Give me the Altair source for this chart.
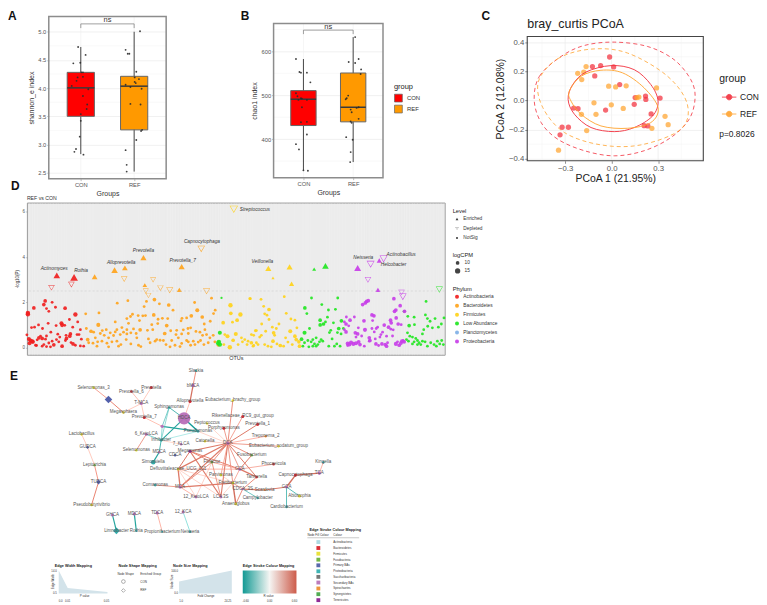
import altair as alt
import pandas as pd

FONT = "Liberation Sans"
GROUPS = ["CON", "REF"]
BOX_COL = ["#ff0000", "#ff9900"]

# ---------- A ----------
A_CON_J = [-.05,.09,-.14,-.01,.01,.04,.04,-.06,-.08,-.17,.14,.04,.12,.11,0,0,-.02,-.09,-.12,.05]
A_CON_V = [4.73,4.59,4.44,4.45,4.28,4.28,4.20,4.19,4.13,4.04,3.98,3.86,3.71,3.63,3.54,3.42,3.14,2.92,2.87,2.82]
A_REF_J = [.11,-.16,-.12,-.09,.04,.01,.09,.01,.03,-.16,-.07,.14,-.07,.12,.15,.13,.04,-.16,-.14,-.14]
A_REF_V = [5.01,4.68,4.61,4.61,4.29,4.19,4.16,4.11,4.09,4.06,4.02,3.99,3.72,3.71,3.26,3.24,3.08,2.90,2.64,2.52]
A_LO, A_Q1, A_MED, A_Q3, A_HI = [2.83,2.52],[3.50,3.26],[4.005,4.035],[4.28,4.21],[4.73,5.00]

# ---------- B ----------
B_CON_J = [-.15,-.08,-.05,.07,.14,-.15,-.12,-.05,-.03,-.10,.07,-.03,-.05,.07,.07,-.15,-.09,0,.09]
B_CON_V = [582.6,553,551.5,551.5,529.5,504.5,497.7,493.2,492.4,489.4,489.4,472.7,438.6,439.4,410.6,388.6,376.5,328.8,328]
B_REF_J = [.04,.11,-.09,.04,.16,.15,-.10,-.13,-.15,.11,.07,-.05,-.03,.11,-.05,-.03,-.14,-.01,-.05,-.06]
B_REF_V = [632.6,582.6,575.8,573.5,559,548.5,499.2,493.2,490.9,472.7,471.2,467.4,461.4,446.2,440.2,437.1,404.5,398.5,370.5,347.7]
B_LO, B_Q1, B_MED, B_Q3, B_HI = [329,347.7],[431,439.4],[491,472.7],[510.6,550.8],[582.6,632.6]

# ---------- C ----------
C_CON = [(-.013,.298),(.013,.230),(-.071,.239),(-.124,.232),(-.109,.168),(.052,.109),(.219,.030),(.152,.020),(.221,.007),(.313,.016),
         (.146,-.027),(-.039,-.066),(-.217,-.057),(-.245,-.052),(.255,-.093),(.210,-.173),(.234,-.175),(-.279,-.184),(-.320,-.184),(-.333,-.236)]
C_REF = [(-.165,.232),(-.180,.195),(-.219,.186),(-.193,.143),(-.019,.098),(.026,.093),(.094,.100),(.290,.086),(.163,.020),(.176,.023),
         (-.114,-.016),(-.002,-.030),(.075,-.055),(-.195,-.095),(-.101,-.095),(.345,-.109),(.365,-.166),(.260,-.191),(-.161,-.207),(-.343,-.341)]
ELL_CON_IN = [(-.281,.007),(-.251,.109),(-.165,.195),(-.004,.239),(.146,.211),(.253,.109),(.300,-.005),(.264,-.107),(.146,-.186),(.017,-.214),(-.133,-.186),(-.240,-.095)]
ELL_REF_IN = [(-.273,.064),(-.197,.166),(-.069,.207),(.071,.189),(.210,.086),(.300,-.050),(.253,-.152),(.103,-.191),(-.069,-.175),(-.197,-.095),(-.262,-.005)]
ELL_CON_OUT = [(-.500,.002),(-.466,.166),(-.326,.302),(-.176,.377),(.017,.400),(.232,.370),(.403,.280),(.511,.143),(.539,.018),(.500,-.130),(.382,-.255),(.210,-.345),(.017,-.380),(-.176,-.345),(-.348,-.266),(-.455,-.152)]
ELL_REF_OUT = [(-.472,.132),(-.348,.286),(-.133,.352),(.103,.325),(.361,.166),(.489,-.027),(.446,-.198),(.189,-.305),(-.069,-.305),(-.305,-.220),(-.444,-.050)]

# ---------- D : (OTU rank, -log10 P[, logCPM]) ----------
D_ACT = [(82,1.53,12),(82,1.47,12),(100,1.75,10),(130,1.9,10),(134,2.06,10),(155,2.0),(138,1.72),(165,1.78),(145,1.6),(194,1.74,10),(225,1.46,12),(207,1.24),(232,1.13),(143,1.07),
 (183,1.07,11),(185,.99,11),(93,.88),(102,.9),(114,1),(126,.84),(167,.97),(193,.98),(217,.9),(240,.79),(151,.68),(79,.56),(172,.59),(210,.6,10),(236,.57),(230,.57),(197,.54),
 (85,.38,11),(90,.31,11),(95,.28,11),(87,.19,11),(97,.25,11),(105,.1),(115,.43,10),(125,.4,10),(135,.37),(110,.34),(120,.5),(138,.51),(145,.2),(155,.28),(160,.12,10),(150,.03),
 (168,.35),(178,.46),(175,.25),(185,.06,10),(198,.4,10),(195,.31),(208,.5,10),(212,.22),(218,.16,10),(225,.1),(243,.37),(250,.06),(240,.07),(125,.06),(108,.09),(130,.13),(138,.04)]
D_BAC = [(635,2.18),(351,1.96),(383,2.07),(463,2.12,10),(439,2.04),(432,1.81),(478,1.93),(506,1.88,10),(584,1.99),(519,1.65),(592,1.65,11),(296,1.53),(256,1.49),(397,1.47),(391,1.37),(380,1.28),(414,1.41),(428,1.4),(436,1.41),(461,1.44,10),
 (646,1.65),(641,1.5),(607,1.35,10),(574,1.4,10),(560,1.31),(546,1.29),(474,1.25),(487,1.29),(503,1.28),(345,1.13),(418,1.19),(543,1.18),(365,.88),(455,1.01),(473,1.06),(631,1.16),(613,1.04),(500,.97,10),(294,1,11),(385,1.07),(258,.84),
 (272,.72,10),(280,.68),(318,.79),(306,.75),(350,.79),(380,.79),(400,.82),(420,.78,10),(442,.76),(458,.79),(512,.74),(530,.76),(564,.84),(572,.87),(550,.78),(588,.71),(600,.68),(615,.79),(300,.62),(330,.65),(345,.69),(370,.68),(392,.65),(408,.62),(494,.62,10),
 (528,.57),(545,.6),(565,.62),(608,.54),(620,.57),(640,.54),(262,.35,10),(285,.43),(312,.54),(325,.43),(340,.53),(360,.57),(380,.6),(410,.43),(445,.38),(470,.35),(490,.31),(515,.31),(535,.43),(560,.31),(580,.28),(602,.31),(630,.43),
 (265,.21),(278,.19),(292,.25),(305,.28),(320,.19),(335,.25),(350,.28),(362,.13),(378,.35),(392,.16),(415,.1),(450,.21),(465,.28),(480,.32),(498,.13),(510,.03),(525,.1),(545,.18),(565,.25),(585,.13),(595,.24),(612,.13),(625,.21),(645,.25),
 (290,.06),(325,.03),(355,.06),(422,.04),(540,.04),(572,.1),(655,.1)]
D_FIR = [(692,1.87,12),(693,1.51,10),(722,1.46,12),(712,1.21,10),(698,1.12),(670,1.1,10),(752,2.16),(767,.74),(755,.57),(708,.6,11),(675,.57),(683,.5,11),(700,.32,10),(725,.43),(735,.35),(745,.28),(690,.01,12),(672,.13),(715,.13),(742,.13),(775,.13),(760,.06),(728,.25),
 (750,2.16),(784,2.13),(854,2.25),(792,1.82),(808,1.68,10),(795,1.49),(802,1.43),(808,1.24),(860,1.51),(874,1.26),(786,1.04),(798,.72),(818,.9),(838,1.04),(830,.84),(886,1.21),(892,.87),(872,.72,11),(822,.65,10),(825,.54),(770,.75),(785,.54),(780,.46),(762,.54),
 (858,.43),(886,.5,10),(890,.35,10),(898,.25,10),(755,.21,10),(770,.21),(795,.13),(805,.06),(820,.28,10),(832,.16),(842,.09,10),(852,.06),(865,.24),(878,.13),(815,.03),(900,.06,10),(762,.09)]
D_LOW = [(665,2.19,7),(660,.65,11),(657,.25,12),(655,.19,12),(660,.13,12),(936,2.19),(1015,2.19),(916,1.75,10),(967,1.9),(922,1.5),(987,1.66),(1008,1.69),(984,1.34),(962,1.21,10),(978,1.13),(972,1.04,10),(962,1,10),(1026,1.18,10),(1002,1.09),(930,.84),(915,.65,11),
 (994,.76),(990,.66),(1018,.84,10),(1014,.66),(1032,.84),(1025,.6),(998,.38),(940,.35),(950,.43),(965,.35),(906,.37,10),(925,.31),(935,.25),(915,.21),(945,.16),(955,.13),(960,.25),(970,.28),(910,.06),(928,.03),(940,.06),(950,.06),(988,.06),(1005,.06),(1012,.16),(1022,.06),
 (1281,2.04),(1226,1.38),(1245,1.34),(1215,1.6),(1279,1.44),(1285,1.28),(1308,1.28),(1335,1.31),(1293,1.16),(1230,.97,10),(1246,1.01),(1327,1.04),(1286,.94),(1274,.79),(1300,.87),(1318,.9),(1270,.6),(1225,.65),(1232,.5),(1240,.46),(1250,.4),(1222,.35),(1228,.28),(1245,.25),(1255,.31),(1260,.21),
 (1270,.28),(1265,.13),(1278,.25),(1255,.13),(1285,.06),(1295,.21),(1305,.13),(1315,.28),(1322,.16),(1328,.31),(1333,.13),(1312,.06),(1240,.16)]
D_PRO = [(1102,2.04,10),(1107,2.07,10),(1098,1.97,10),(1090,1.9,10),(1184,2.16,10),(1203,1.85,10),(1190,1.66,10),(1186,1.6,10),(1216,1.6,10),(1065,1.35),(1118,1.44,10),(1124,1.4,10),(1191,1.31,10),(1041,1.35),(1052,1.21,10),(1035,1.13),(1040,1.04,10),(1094,1.18,10),(1120,1.19),(1174,1.21,10),(1176,1.09,10),
 (1197,1.04,10),(1206,1.01),(1155,.99,10),(1048,.96),(1077,.87),(1118,.84),(1131,.84),(1135,.9),(1097,.78,11),(1168,.9,10),(1175,.81),(1182,.78),(1145,.57),(1150,.68),(1035,.79),(1040,.69,10),(1068,.65,10),(1075,.6,10),(1125,.69),(1180,.51),(1087,.51),(1070,.46),(1110,.43,10),(1112,.31,10),(1128,.38),(1142,.46),(1162,.5),
 (1045,.18,11),(1050,.13,11),(1055,.22,11),(1062,.16,11),(1070,.19,11),(1078,.25,10),(1082,.13,10),(1045,.09),(1095,.06),(1110,.28),(1130,.16,10),(1138,.09),(1148,.16,10),(1158,.13,10),(1165,.21),(1162,.06,10),(1190,.16,11),(1195,.25),(1200,.1,10),(1208,.28,10),(1215,.25,10),(1205,.19,10),(1212,.31)]
# Level points : phylum, level, rank, value, logCPM
D_SIG = [("Actinobacteria","Enriched",169,3.18,13),("Actinobacteria","Enriched",221,3.09,16),("Actinobacteria","Depleted",153,2.65,11),("Actinobacteria","Depleted",213,2.79,11),
 ("Bacteroidetes","Enriched",283,3.12,11),("Bacteroidetes","Enriched",343,3.41,13),("Bacteroidetes","Enriched",374,3.51,11),("Bacteroidetes","Enriched",430,3.96,12),("Bacteroidetes","Enriched",545,3.57,12),("Bacteroidetes","Enriched",434,2.75,9),("Bacteroidetes","Enriched",538,2.54,10),
 ("Bacteroidetes","Depleted",372,3.03,11),("Bacteroidetes","Depleted",459,3.0,10),("Bacteroidetes","Depleted",437,2.5,10),("Bacteroidetes","Depleted",445,2.31,10),("Bacteroidetes","Depleted",481,2.63,11),("Bacteroidetes","Depleted",509,2.54,12),("Bacteroidetes","Depleted",604,4.37,13),("Bacteroidetes","Depleted",620,2.5,12),
 ("Firmicutes","Depleted",702,6.12,15),("Firmicutes","Enriched",806,3.49,12),("Firmicutes","Enriched",870,3.56,12),("Firmicutes","Enriched",820,3.07,7),("Firmicutes","Enriched",876,2.81,10),
 ("Low Abundance","Enriched",944,3.46,8),("Low Abundance","Enriched",978,3.6,13),("Low Abundance","Depleted",1321,2.57,12),
 ("Proteobacteria","Enriched",1075,3.5,14),("Proteobacteria","Enriched",1140,3.84,10),("Proteobacteria","Enriched",1136,2.54,10),
 ("Proteobacteria","Depleted",1114,3.69,14),("Proteobacteria","Depleted",1153,3.93,14),("Proteobacteria","Depleted",1106,3.0,11),("Proteobacteria","Depleted",1207,2.44,11),("Proteobacteria","Depleted",1211,2.25,13)]
D_LABELS = [("Actinomyces",161,3.49),("Rothia",242,3.38),("Alloprevotella",363,3.73),("Prevotella",430,4.25),("Prevotella_7",548,3.84),("Capnocytophaga",606,4.68),
 ("Veillonella",788,3.79),("Neisseria",1092,3.98),("Actinobacillus",1206,4.09),("Helcobacter",1183,3.65)]
PHYLA = ["Actinobacteria","Bacteroidetes","Firmicutes","Low Abundance","Planctomycetes","Proteobacteria"]
PHYLA_COL = ["#f0201f","#ffa41c","#ffd21a","#22e622","#7fb0e6","#c83fe8"]
LEVELS = ["Enriched","Depleted","NotSig"]
TRI_UP = "M0,-1.3L1.4,1.1L-1.4,1.1Z"
TRI_HOLLOW = "M-1.6,-1.3L1.6,-1.3L0,1.5ZM-1.25,-1.07L0,1.02L1.25,-1.07Z"

# ---------- E : network ----------
NODES = [("Selenomonas_3",93,387,"yellow",6),("d1",108,399,"navy",50),("Megasphaera",123,412,"yellow",6),("Prevotella_6",131,391,"red",6),("Prevotella",151,387,"red",8),("T-MCA",141,403,"pink",9),
 ("Prevotella_7",144,417,"red",8),("Sphingomonas",169,407,"teal",6),("HDCA",184,418,"pink",130),("Alloprevotella",190,401,"red",8),("bMCA",193,385,"pink",11),("Slackia",196,370,"teal",5),
 ("Peptococcus",207,423,"yellow",5),("u1",162,426,"pink",10),("Porphyromonas",224,428,"red",8),("Pelomonas",198,431,"teal",7),("Catenisphaera",205,441,"yellow",5),("6_KetoLCA",146,434,"pink",8),
 ("Selenomonas",136,450,"yellow",6),("Halobacter",161,440,"teal",7),("7_KLCA",181,444,"pink",6),("MDCA",159,452,"pink",6),("CDCA",175,455,"navy",6),("Megamonas",190,451,"purple",9),
 ("Simonsiella",153,462,"teal",18),("Defluviitaleaceae_UCG_011",178,469,"yellow",6),("Comamonas",155,485,"teal",7),("MCA",180,487,"pink",9),("12_KetoLCA",196,497,"pink",7),("LCA.3S",221,497,"pink",7),
 ("Lactobacillus",81,434,"yellow",6),("GUDCA",87,447,"navy",11),("Leptotrichia",94,465,"green",5),("TUDCA",98,482,"navy",20),("Pseudobutyrivibrio",91,505,"yellow",6),
 ("GHCA",112,515,"pink",8),("Limosilactobacillus",116,531,"teal",40),("MDCA2",134,514,"pink",9),("Rothia",136,531,"teal",5),("TDCA",157,513,"pink",9),("Propionibacterium",162,532,"teal",4),("12_KCA",183,512,"pink",8),("Neisseria",190,532,"teal",6),
 ("Eubacterium_brachy_group",233,400,"yellow",6),("Rikenellaceae_RC9_gut_group",243,416,"red",8),("Prevotella_1",258,424,"red",8),("Treponema_2",266,436,"orange",5),("DCA",228,443,"pink",10),("Eubacterium_nodatum_group",279,446,"yellow",5),
 ("Fusobacterium",252,455,"green",6),("Filifactor",212,462,"green",6),("Phocaeicola",274,464,"red",6),("GCA",240,469,"pink",8),("Parvimonas",221,475,"yellow",7),("Tannerella",257,477,"red",6),("Capnocytophaga",296,475,"red",10),
 ("TCA",320,473,"pink",11),("Kingella",324,462,"teal",5),("Fretibacterium",233,483,"yellow",7),("CDCA_3S",243,489,"pink",6),("Scardovia",265,490,"orange",4),("GCA2",287,487,"pink",8),("Abiotrophia",300,496,"yellow",9),("Cardiobacterium",287,507,"teal",5),("Campylobacter",258,498,"teal",5),("Anaeroglobus",236,504,"yellow",7)]
NODE_DIAMONDS = ["d1","GUDCA","TUDCA","Limosilactobacillus"]
NODE_LABEL = {"d1":"","u1":"","MDCA2":"MDCA","GCA2":"GCA","Limosilactobacillus":"Limnobacter","Pelomonas":"Pseudomonas","Catenisphaera":"Catonella","Halobacter":"Inhibacter"}
NODE_COL = {"yellow":"#e3d820","navy":"#4a59a8","red":"#d81f26","pink":"#b86fb8","teal":"#2aa8a8","purple":"#8a1b8a","green":"#67ac3a","orange":"#f08a2a"}
# from, to, R value, width
EDGES = [("Selenomonas_3","d1",.45,.8),("d1","Megasphaera",.5,1),("Megasphaera","T-MCA",.3,.6),("Prevotella_6","T-MCA",.4,.6),("Prevotella","T-MCA",.3,.6),("T-MCA","Prevotella_7",.3,.6),("Prevotella_7","u1",.3,.7),
 ("Sphingomonas","u1",-.45,.7),("u1","Pelomonas",-.55,1.2),("Sphingomonas","HDCA",-.55,.8),("HDCA","Pelomonas",-.6,1.4),("Halobacter","HDCA",-.55,1.1),("Sphingomonas","Halobacter",-.4,.6),("u1","Halobacter",-.4,.6),("Halobacter","Pelomonas",-.3,.5),
 ("6_KetoLCA","Halobacter",-.45,.7),("6_KetoLCA","Selenomonas",.5,.8),("Halobacter","7_KLCA",.25,.5),("Halobacter","MDCA",-.5,.9),("MDCA","Simonsiella",-.55,1.2),("HDCA","Alloprevotella",.3,.7),("Alloprevotella","bMCA",.6,1.3),("bMCA","Slackia",.5,.9),
 ("Peptococcus","DCA",.25,.5),("Pelomonas","DCA",.3,.5),("Eubacterium_brachy_group","DCA",.5,.9),("Rikenellaceae_RC9_gut_group","DCA",.45,.8),("Prevotella_1","DCA",.55,1),("Treponema_2","DCA",.4,.7),("Eubacterium_nodatum_group","DCA",.5,.8),("Porphyromonas","DCA",.5,.8),("Catenisphaera","DCA",.3,.5),
 ("DCA","Fusobacterium",.5,.9),("DCA","Filifactor",.5,.9),("DCA","Defluviitaleaceae_UCG_011",.55,1.2),("DCA","Megamonas",.55,1.1),("DCA","MCA",.55,1.1),("DCA","Parvimonas",.45,.7),("DCA","GCA",.5,.8),("DCA","Tannerella",.55,1),("DCA","LCA.3S",.55,1.1),("DCA","Fretibacterium",.5,.8),("Fusobacterium","GCA",.55,1),
 ("Megamonas","Filifactor",.5,.9),("Megamonas","GCA",.5,1),("Megamonas","LCA.3S",.55,1.2),("Megamonas","Defluviitaleaceae_UCG_011",.55,1),("Defluviitaleaceae_UCG_011","GCA",.4,.7),("Defluviitaleaceae_UCG_011","MCA",.55,1.3),("Defluviitaleaceae_UCG_011","12_KetoLCA",.3,.5),("Defluviitaleaceae_UCG_011","Fretibacterium",.3,.5),("Defluviitaleaceae_UCG_011","LCA.3S",.3,.5),
 ("Comamonas","MCA",.5,.8),("MCA","Filifactor",.5,.9),("MCA","Fretibacterium",.55,1.3),("MCA","12_KetoLCA",.4,.7),("12_KetoLCA","Filifactor",.3,.5),("Filifactor","LCA.3S",.5,.8),("Filifactor","GCA",.45,.7),("GCA","Tannerella",.55,1.2),("GCA","Phocaeicola",.45,.7),("GCA","Fretibacterium",.45,.7),
 ("Tannerella","CDCA_3S",.5,.9),("CDCA_3S","Fretibacterium",.5,.8),("CDCA_3S","Scardovia",.55,1.2),("Scardovia","GCA2",.55,1),("CDCA_3S","Campylobacter",-.5,.7),("CDCA_3S","Anaeroglobus",.5,.9),("Fretibacterium","Anaeroglobus",.6,1.4),("Parvimonas","Fretibacterium",.25,.5),("LCA.3S","Fretibacterium",.25,.5),
 ("GCA2","Capnocytophaga",.6,1.4),("Capnocytophaga","TCA",.6,1.4),("TCA","Kingella",.4,.7),("GCA2","Abiotrophia",-.5,.8),("GCA2","Cardiobacterium",-.5,.8),
 ("Lactobacillus","GUDCA",.3,.6),("GUDCA","Leptotrichia",.3,.6),("Leptotrichia","TUDCA",.45,.9),("TUDCA","Pseudobutyrivibrio",.5,1),("GHCA","Limosilactobacillus",-.55,1.2),("MDCA2","Rothia",-.55,1.2),("TDCA","Propionibacterium",.4,.7),("12_KCA","Neisseria",-.3,.7)]
# area mini plots : layout x, top y
WIDTH_AREA = [(58,571),(67,588.5),(107,592.5)]
SIZE_AREA = [(179,582),(232,571)]
MINI_BASE = 594
SMALL_TEXT = [("Edge Width Mapping",54,566,3.8,"bold","left"),("Edge Width",52,582,3,"normal","rot"),("14.0",56,571,2.8,"normal","right"),("0.5",56,593.5,2.8,"normal","right"),("P value",84,597,3,"normal","center"),("0.0",60,602,2.8,"normal","center"),("0.01",67,602,2.8,"normal","center"),("0.05",106,602,2.8,"normal","center"),
 ("Node Shape Mapping",118,566,3.8,"bold","left"),("Node Shape",117,574,3,"normal","left"),("Enriched Group",140,574,3,"normal","left"),("CON",140,582,3,"normal","left"),("REF",140,591,3,"normal","left"),
 ("Node Size Mapping",173,566,3.8,"bold","left"),("Node Size",172,582,3,"normal","rot"),("100.0",178,571,2.8,"normal","right"),("0.0",178,594,2.8,"normal","right"),("Fold Change",206,597,3,"normal","center"),("1.0",181,602,2.8,"normal","center"),("24.25",228,602,2.8,"normal","center"),
 ("Edge Stroke Colour Mapping",243,566,3.8,"bold","left"),("R value",269,597,3,"normal","center"),("-0.60",246,602,2.8,"normal","center"),("0.00",270,602,2.8,"normal","center"),("0.60",295,602,2.8,"normal","center"),
 ("Edge Stroke Colour Mapping",310,530,3.8,"bold","left"),("Node Fill Colour",308,535,3,"normal","left"),("Colour",334,535,3,"normal","left")]
TABLE_LABELS = ["Actinobacteria","Bacteroidetes","Firmicutes","Fusobacteria","Primary BAs","Proteobacteria","Saccharibacteria","Secondary BAs","Spirochaetes","Synergistetes","Tenericutes"]
TABLE_COLS = ["#a9d8e0","#d8232a","#e8e030","#6ab23c","#5060a8","#35b0b0","#707070","#b875b8","#ee9030","#4aa84a","#8a2090"]
TABLE_Y = [542.3,548.3,554,560,565.7,571.7,577.3,583,589,594.7,600.7]

def one():
    return alt.Data(values=[{"a": 1}])

def note(txt, x, y, size=7, weight="normal", color="#222", align="left", **kw):
    return alt.Chart(one()).mark_text(text=txt, fontSize=size, fontWeight=weight, color=color, align=align, baseline="middle", **kw).encode(
        x=alt.value(x), y=alt.value(y))

def frame(w, top, h, color, sw):
    return alt.Chart(one()).mark_rect(fill=None, fillOpacity=0, stroke=color, strokeWidth=sw).encode(
        x=alt.value(0), x2=alt.value(w), y=alt.value(top), y2=alt.value(top + h))

def spacer(w, h):
    return alt.Chart(one()).mark_point(opacity=0, size=1).encode(x=alt.value(0), y=alt.value(0)).properties(
        width=w, height=h, view=alt.ViewConfig(stroke=None, fill=None))

def box_panel(jc, vc, jr, vr, lo, q1, med, q3, hi, ydom, ticks, minor, ylabel, brk, brk2, ns_y, w, h, top_off, extras, legend=None):
    pts = pd.DataFrame({"x": [1+j for j in jc] + [2+j for j in jr], "v": list(vc) + list(vr)})
    boxes = pd.DataFrame({"group": GROUPS, "c": [1, 2], "x0": [.745, 1.745], "x1": [1.255, 2.255], "lo": lo, "q1": q1, "med": med, "q3": q3, "hi": hi})
    xs = alt.Scale(domain=[.4, 2.6], nice=False)
    ys = alt.Scale(domain=ydom, nice=False, zero=False, range=[h + top_off, top_off])
    xa = alt.Axis(values=[1, 2], labelExpr="datum.value == 1 ? 'CON' : 'REF'", title="Groups", grid=False, domain=False,
                  tickColor="#777", tickSize=2, tickWidth=.5, labelColor="#555", labelFontSize=5.8, labelPadding=1, titleFontSize=7, titleFontWeight="normal", titleColor="#333", titlePadding=2)
    ya = alt.Axis(values=ticks, title=ylabel, format=".1f" if ticks[0] < 10 else "d", grid=True, gridColor="#e8e8e8", gridWidth=.6, domain=False,
                  tickColor="#777", tickSize=2, tickWidth=.5, labelColor="#555", labelFontSize=5.8, labelPadding=1, titleFontSize=7, titleFontWeight="normal", titleColor="#333", titlePadding=3)
    XX = lambda f: alt.X(f, scale=xs, axis=xa)
    YY = lambda f: alt.Y(f, scale=ys, axis=ya)
    gridx = alt.Chart(pd.DataFrame({"x": [1, 2]})).mark_rule(color="#eeeeee", strokeWidth=.6).encode(x=XX("x:Q"), y=alt.value(top_off), y2=alt.value(h + top_off))
    gridm = alt.Chart(pd.DataFrame({"v": minor})).mark_rule(color="#f3f3f3", strokeWidth=.5).encode(y=YY("v:Q"))
    whisk = alt.Chart(boxes).mark_rule(color="#444", strokeWidth=1).encode(x=XX("c:Q"), y=YY("lo:Q"), y2="hi:Q")
    color = alt.Color("group:N", scale=alt.Scale(domain=GROUPS, range=BOX_COL), legend=legend)
    rect = alt.Chart(boxes).mark_rect(stroke="#666", strokeWidth=1).encode(x=XX("x0:Q"), x2="x1:Q", y=YY("q1:Q"), y2="q3:Q", fill=color)
    median = alt.Chart(boxes).mark_rule(color="#3a3a3a", strokeWidth=1.5).encode(x=XX("x0:Q"), x2="x1:Q", y=YY("med:Q"))
    dots = alt.Chart(pts).mark_circle(color="#2b2b2b", size=3.5, opacity=.9).encode(x=XX("x:Q"), y=YY("v:Q"))
    top = alt.Chart(pd.DataFrame({"a": [1], "b": [2], "v": [brk]})).mark_rule(color="#777", strokeWidth=.7).encode(x=XX("a:Q"), x2="b:Q", y=YY("v:Q"))
    legs = alt.Chart(pd.DataFrame({"c": [1, 2], "a": [brk, brk], "b": [brk2, brk2]})).mark_rule(color="#777", strokeWidth=.7).encode(x=XX("c:Q"), y=YY("a:Q"), y2="b:Q")
    ns = alt.Chart(pd.DataFrame({"c": [1.5], "v": [ns_y], "t": ["ns"]})).mark_text(fontSize=7.5, color="#333").encode(x=XX("c:Q"), y=YY("v:Q"), text="t:N")
    return alt.layer(gridx, gridm, whisk, rect, median, dots, top, legs, ns, frame(w, top_off, h, "#8c8c8c", 1.5), *extras).properties(
        width=w, height=h + top_off, view=alt.ViewConfig(stroke=None, fill="white"))

letter = lambda t, x, y: note(t, x, y, size=12, weight="bold", color="#111")
panel_a = box_panel(A_CON_J, A_CON_V, A_REF_J, A_REF_V, A_LO, A_Q1, A_MED, A_Q3, A_HI, [2.394, 5.27], [2.5,3,3.5,4,4.5,5], [2.75,3.25,3.75,4.25,4.75],
                    "shannon_e index", 5.14, 5.065, 5.2, 118, 163, 0,
                    [letter("A", -41, -1), letter("D", -38, 170), note("REF vs CON", -22, 182, size=5.2, color="#333")])
legend_b = alt.Legend(title="group", orient="none", legendX=121, legendY=67, symbolType="square", symbolSize=62, symbolStrokeColor="#666", symbolStrokeWidth=.7,
                      labelFontSize=6, titleFontSize=7.5, titleFontWeight="normal", titleColor="#222", labelColor="#333", rowPadding=0, titlePadding=3)
panel_b = box_panel(B_CON_J, B_CON_V, B_REF_J, B_REF_V, B_LO, B_Q1, B_MED, B_Q3, B_HI, [312.1, 663.6], [400,500,600], [350,450,550,650],
                    "chao1 index", 648.5, 639.4, 655, 110, 155, 7, [letter("B", -33, -1)], legend_b)

# ---------- C chart ----------
C_TOP, C_H = 20, 125
cx = alt.Scale(domain=[-.545, .592], nice=False, zero=False)
cy = alt.Scale(domain=[-.414, .439], nice=False, zero=False, range=[C_TOP + C_H, C_TOP])
c_pts = pd.DataFrame([{"x": p[0], "y": p[1], "group": g} for g, arr in (("CON", C_CON), ("REF", C_REF)) for p in arr])
c_ell = pd.DataFrame([{"x": p[0], "y": p[1], "i": i, "e": name, "group": g} for name, g, arr in (("a", "CON", ELL_CON_IN), ("b", "REF", ELL_REF_IN)) for i, p in enumerate(arr)])
c_eld = pd.DataFrame([{"x": p[0], "y": p[1], "i": i, "e": name, "group": g} for name, g, arr in (("c", "CON", ELL_CON_OUT), ("d", "REF", ELL_REF_OUT)) for i, p in enumerate(arr)])
c_col = alt.Scale(domain=GROUPS, range=["#f22f3c", "#ffa32e"])
LINE_DOT = "M-1,0L-0.38,0M0.38,0L1,0M-0.38,0A0.38,0.38 0 1 1 0.38,0A0.38,0.38 0 1 1 -0.38,0Z"
c_leg = alt.Legend(title="group", orient="none", legendX=193, legendY=58, symbolType=LINE_DOT, symbolSize=210, symbolStrokeWidth=.9, symbolOpacity=.9, symbolOffset=2,
                   labelFontSize=8.5, titleFontSize=10.5, titleFontWeight="normal", titleColor="#222", labelColor="#222", rowPadding=4, titlePadding=4.5, labelOffset=3)
c_xaxis = alt.Axis(values=[-.3, 0, .3, .6], format=".1f", title="PCoA 1 (21.95%)", grid=False, domain=False, tickColor="#444", tickSize=2.5, tickWidth=.6,
                   labelColor="#555", labelFontSize=7.8, labelPadding=1, titleFontSize=10.5, titleFontWeight="normal", titleColor="#222", titlePadding=2)
c_yaxis = alt.Axis(values=[-.4, -.2, 0, .2, .4], format=".1f", title="PCoA 2 (12.08%)", grid=True, gridColor="#ebebeb", gridWidth=.7, domain=False, tickColor="#444", tickSize=2.5, tickWidth=.6,
                   labelColor="#555", labelFontSize=7.8, labelPadding=1, titleFontSize=10.5, titleFontWeight="normal", titleColor="#222", titlePadding=3)
CX = lambda f: alt.X(f, scale=cx, axis=c_xaxis)
CY = lambda f: alt.Y(f, scale=cy, axis=c_yaxis)
c_gridx = alt.Chart(pd.DataFrame({"v": [-.3, 0, .3]})).mark_rule(color="#ebebeb", strokeWidth=.7).encode(x=CX("v:Q"), y=alt.value(C_TOP), y2=alt.value(C_TOP + C_H))
c_minx = alt.Chart(pd.DataFrame({"v": [-.45, -.15, .15, .45]})).mark_rule(color="#f3f3f3", strokeWidth=.5).encode(x=CX("v:Q"), y=alt.value(C_TOP), y2=alt.value(C_TOP + C_H))
c_miny = alt.Chart(pd.DataFrame({"v": [-.3, -.1, .1, .3]})).mark_rule(color="#f3f3f3", strokeWidth=.5).encode(y=CY("v:Q"))
c_points = alt.Chart(c_pts).mark_circle(size=28, opacity=.72).encode(x=CX("x:Q"), y=CY("y:Q"), color=alt.Color("group:N", scale=c_col, legend=c_leg))
c_in = alt.Chart(c_ell).mark_line(interpolate="cardinal-closed", strokeWidth=.9).encode(x=CX("x:Q"), y=CY("y:Q"), color=alt.Color("group:N", scale=c_col, legend=c_leg), detail="e:N", order="i:Q")
c_out = alt.Chart(c_eld).mark_line(interpolate="cardinal-closed", strokeWidth=.8, strokeDash=[4, 3]).encode(x=CX("x:Q"), y=CY("y:Q"), color=alt.Color("group:N", scale=c_col, legend=c_leg), detail="e:N", order="i:Q")
panel_c = alt.layer(c_gridx, c_minx, c_miny, c_points, c_in, c_out, frame(177, C_TOP, C_H, "#444", 1.1),
                    note("p=0.8026", 193, 118, size=8.5), letter("C", -46, -1),
                    note("bray_curtis PCoA", 0, 8, size=12.5)).properties(
    width=177, height=C_TOP + C_H, view=alt.ViewConfig(stroke=None, fill="white"))

# ---------- D chart ----------
rows = []
for name, arr in zip(PHYLA, [D_ACT, D_BAC, D_FIR, D_LOW, [], D_PRO]):
    for p in arr:
        rows.append({"phylum": name, "level": "NotSig", "rank": p[0], "v": p[1], "cpm": p[2] if len(p) > 2 else 8})
for ph, lev, r, v, s in D_SIG:
    rows.append({"phylum": ph, "level": lev, "rank": r, "v": v, "cpm": s})
d_df = pd.DataFrame(rows)
dx = alt.Scale(domain=[79, 1337], nice=False, zero=False)
dy = alt.Scale(domain=[-.32, 6.41], nice=False, zero=False)
d_xa = alt.Axis(values=list(range(85, 1337, 8)), labels=False, ticks=False, domain=False, grid=True, gridColor="#f3f3f3", gridWidth=.3, title="OTUs", titleFontSize=5.5, titleFontWeight="normal", titleColor="#333", titlePadding=1)
d_ya = alt.Axis(values=[0, 2, 4, 6], format="d", grid=False, domain=False, tickColor="#777", tickSize=1.5, tickWidth=.4, labelColor="#555", labelFontSize=4.5, labelPadding=1, title="-log10(P)", titleFontSize=4.5, titleFontWeight="normal", titleColor="#333", titlePadding=2)
DX = lambda f: alt.X(f, scale=dx, axis=d_xa)
DY = lambda f: alt.Y(f, scale=dy, axis=d_ya)
leg_common = dict(orient="none", legendX=428, labelFontSize=4.8, titleFontSize=5.8, titleFontWeight="normal", titleColor="#222", labelColor="#333", titlePadding=2.5, symbolStrokeWidth=0, labelOffset=4, symbolOffset=2)
d_points = alt.Chart(d_df).mark_point(filled=True, opacity=.92, strokeWidth=0).encode(
    x=DX("rank:Q"), y=DY("v:Q"),
    color=alt.Color("phylum:N", scale=alt.Scale(domain=PHYLA, range=PHYLA_COL), legend=alt.Legend(title="Phylum", legendY=84, symbolType="circle", symbolSize=16, rowPadding=3, **leg_common)),
    shape=alt.Shape("level:N", scale=alt.Scale(domain=LEVELS, range=[TRI_UP, TRI_HOLLOW, "circle"]), legend=alt.Legend(title="Level", legendY=6, symbolSize=4, symbolFillColor="#222", rowPadding=3.5, **leg_common)),
    size=alt.Size("cpm:Q", scale=alt.Scale(domain=[8, 15], range=[8, 28], zero=False), legend=alt.Legend(title="logCPM", legendY=50, values=[10, 15], symbolType="circle", symbolFillColor="#333", rowPadding=2.5, **leg_common)),
)
d_line = alt.Chart(pd.DataFrame({"v": [2.5]})).mark_rule(color="#c9c9c9", strokeWidth=.5, strokeDash=[2, 2]).encode(y=DY("v:Q"))
d_lab = alt.Chart(pd.DataFrame(D_LABELS, columns=["t", "rank", "v"])).mark_text(fontSize=4.8, fontStyle="italic", color="#333").encode(x=DX("rank:Q"), y=DY("v:Q"), text="t:N")
d_strep = alt.Chart(pd.DataFrame({"t": ["Streptococcus"], "rank": [720], "v": [6.07]})).mark_text(fontSize=4.8, fontStyle="italic", color="#333", align="left").encode(x=DX("rank:Q"), y=DY("v:Q"), text="t:N")
panel_d = alt.layer(d_points, d_line, d_lab, d_strep).properties(
    width=420, height=153, view=alt.ViewConfig(stroke="#9a9a9a", strokeWidth=1, fill="#ececec"))

# ---------- E chart ----------
E_TOP = 361
ex = alt.Scale(domain=[8, 759], nice=False, zero=False)
ey = alt.Scale(domain=[E_TOP, 605], nice=False, zero=False, reverse=True)
X = lambda f: alt.X(f, scale=ex, axis=None)
Y = lambda f: alt.Y(f, scale=ey, axis=None)
pos = {n[0]: n for n in NODES}
e_edges = pd.DataFrame([{"x": pos[a][1], "y": pos[a][2], "x2": pos[b][1], "y2": pos[b][2], "r": r, "w": w} for a, b, r, w in EDGES])
edge_col = alt.Scale(domain=[-.6, 0, .6], range=["#129a94", "#ffffff", "#d4705f"])
edge_layer = alt.Chart(e_edges).mark_rule().encode(x=X("x:Q"), y=Y("y:Q"), x2="x2:Q", y2="y2:Q", color=alt.Color("r:Q", scale=edge_col, legend=None), strokeWidth=alt.StrokeWidth("w:Q", scale=None, legend=None))
n_df = pd.DataFrame([{"n": n[0], "x": n[1], "y": n[2], "c": NODE_COL[n[3]], "s": n[4] * 1.15, "shape": "diamond" if n[0] in NODE_DIAMONDS else "circle",
                      "label": NODE_LABEL.get(n[0], n[0])} for n in NODES])
node_layer = alt.Chart(n_df).mark_point(filled=True, opacity=.95, strokeWidth=0).encode(x=X("x:Q"), y=Y("y:Q"), fill=alt.Fill("c:N", scale=None, legend=None), size=alt.Size("s:Q", scale=None, legend=None), shape=alt.Shape("shape:N", scale=None, legend=None))
label_layer = alt.Chart(n_df).mark_text(fontSize=4.5, color="#555").encode(x=X("x:Q"), y=Y("y:Q"), text="label:N")
wa = pd.DataFrame([{"x": p[0], "y": p[1], "b": MINI_BASE} for p in WIDTH_AREA])
sa = pd.DataFrame([{"x": p[0], "y": p[1], "b": MINI_BASE} for p in SIZE_AREA])
area1 = alt.Chart(wa).mark_area(color="#d3e3ea").encode(x=X("x:Q"), y=Y("y:Q"), y2="b:Q")
area2 = alt.Chart(sa).mark_area(color="#d3e3ea").encode(x=X("x:Q"), y=Y("y:Q"), y2="b:Q")
grad = alt.Chart(pd.DataFrame({"x": [243], "x2": [297], "y": [571], "y2": [594]})).mark_rect(
    fill=alt.Gradient(gradient="linear", x1=0, x2=1, y1=0, y2=0, stops=[alt.GradientStop(offset=0, color="#129a94"), alt.GradientStop(offset=.5, color="#f5f5f3"), alt.GradientStop(offset=1, color="#cd5c4b")])
).encode(x=X("x:Q"), x2="x2:Q", y=Y("y:Q"), y2="y2:Q")
st = pd.DataFrame(SMALL_TEXT, columns=["t", "x", "y", "s", "w", "a"])
def small(df, **kw):
    return alt.Chart(df).mark_text(baseline="middle", **{"color": "#333", **kw}).encode(x=X("x:Q"), y=Y("y:Q"), text="t:N", size=alt.Size("s:Q", scale=None, legend=None))
txt_l = small(st[(st.a == "left") & (st.w == "normal")], align="left")
txt_b = small(st[st.w == "bold"], align="left", fontWeight="bold", color="#222")
txt_c = small(st[st.a == "center"], align="center")
txt_r = small(st[st.a == "right"], align="right")
txt_v = small(st[st.a == "rot"], align="center", angle=270)
shape_key = alt.Chart(pd.DataFrame({"x": [123, 123], "y": [582, 591], "sh": ["circle", "diamond"]})).mark_point(color="#222", strokeWidth=.5, size=14).encode(x=X("x:Q"), y=Y("y:Q"), shape=alt.Shape("sh:N", scale=None, legend=None))
tb = pd.DataFrame({"t": TABLE_LABELS, "c": TABLE_COLS, "y": TABLE_Y, "x": [319] * 11, "lx": [334] * 11})
tb_sw = alt.Chart(tb).mark_square(size=15, opacity=.95).encode(x=X("x:Q"), y=Y("y:Q"), fill=alt.Fill("c:N", scale=None, legend=None))
tb_tx = alt.Chart(tb).mark_text(fontSize=3, color="#333", align="left", baseline="middle").encode(x=X("lx:Q"), y=Y("y:Q"), text="t:N")
tb_ln = alt.Chart(pd.DataFrame({"x": [308], "x2": [360], "y": [538]})).mark_rule(color="#777", strokeWidth=.4).encode(x=X("x:Q"), x2="x2:Q", y=Y("y:Q"))
panel_e = alt.layer(edge_layer, node_layer, label_layer, area1, area2, grad, txt_l, txt_b, txt_c, txt_r, txt_v, shape_key, tb_sw, tb_tx, tb_ln,
                    note("E", 1, 14, size=12, weight="bold", color="#111")).properties(
    width=751, height=605 - E_TOP, view=alt.ViewConfig(stroke=None, fill=None))

# ---------- layout ----------
IND = dict(color="independent", fill="independent", shape="independent", size="independent", strokeWidth="independent")
row1 = alt.hconcat(spacer(40, 1), panel_a, spacer(108, 1), panel_b, spacer(145, 1), panel_c, spacing=0, bounds="flush").resolve_scale(**IND)
row2 = alt.hconcat(spacer(18, 1), panel_d, spacing=0, bounds="flush").resolve_scale(**IND)
chart = alt.vconcat(row1, row2, panel_e, spacing=0).properties(padding=0).resolve_scale(**IND).configure(font=FONT, background="white")
chart.save("out.html", embed_options={"renderer": "svg", "actions": False})
